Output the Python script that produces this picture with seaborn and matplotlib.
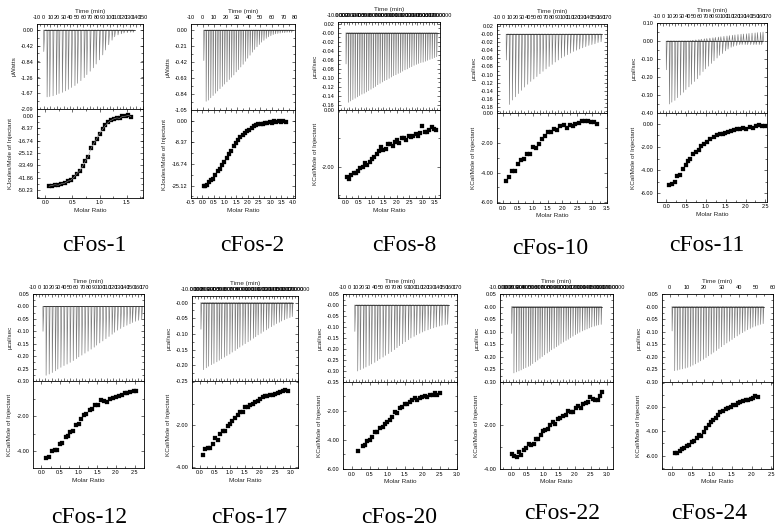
import numpy as np
import pandas as pd
import matplotlib
matplotlib.use("Agg")
import matplotlib.pyplot as plt
from matplotlib.ticker import AutoMinorLocator, FixedLocator, FormatStrFormatter
import seaborn as sns

# ---- ITC data ----
# *_time: injection time (min), *_power: peak of each injection (top panel),
# *_ratio / *_heat: integrated isotherm points (bottom panel)

fos1_time = [0, 5, 9, 14, 19, 23, 28, 33, 37, 42, 47, 51, 56, 61, 65, 70, 75, 79, 84, 89,
             93, 98, 103, 107, 112, 117, 121, 126, 131, 135]
fos1_power = [-0.57, -1.77, -1.76, -1.74, -1.71, -1.68, -1.65, -1.61, -1.57, -1.52, -1.47, -1.41,
              -1.34, -1.26, -1.18, -1.09, -1.00, -0.90, -0.79, -0.66, -0.53, -0.39, -0.27, -0.18,
              -0.13, -0.10, -0.08, -0.07, -0.06, -0.06]
fos1_ratio = [0.07, 0.12, 0.18, 0.24, 0.30, 0.36, 0.42, 0.47, 0.53, 0.58, 0.64, 0.69, 0.74, 0.79,
              0.85, 0.90, 0.95, 1.00, 1.06, 1.11, 1.16, 1.21, 1.27, 1.32, 1.37, 1.42, 1.48, 1.53, 1.58]
fos1_heat = [-47.5, -47.0, -46.5, -46.8, -45.8, -45.4, -44.0, -43.5, -41.5, -39.0, -37.0, -34.0,
             -30.5, -27.5, -21.5, -18.5, -15.5, -12.0, -9.0, -6.5, -4.5, -3.2, -2.0, -1.5, -1.8,
             -0.5, -0.3, 0.2, -0.6]

fos2_time = [1, 3, 5, 7, 9, 11, 13, 15, 17, 19, 21, 23, 25, 27, 29, 31, 33, 35, 37, 39, 41, 43,
             45, 47, 49, 51, 53, 55, 57, 59, 61, 63, 65, 67, 69, 71, 73, 75, 77]
fos2_power = [-0.40, -0.935, -0.92, -0.89, -0.86, -0.83, -0.80, -0.77, -0.74, -0.71, -0.68, -0.65,
              -0.62, -0.59, -0.55, -0.52, -0.485, -0.45, -0.41, -0.37, -0.33, -0.29, -0.255, -0.22,
              -0.19, -0.16, -0.135, -0.11, -0.09, -0.075, -0.06, -0.05, -0.045, -0.04, -0.035,
              -0.035, -0.03, -0.03, -0.03]
fos2_ratio = [0.07, 0.13, 0.20, 0.30, 0.38, 0.48, 0.58, 0.68, 0.78, 0.88, 0.98, 1.08, 1.18, 1.28,
              1.38, 1.48, 1.58, 1.68, 1.78, 1.88, 1.98, 2.08, 2.18, 2.28, 2.38, 2.48, 2.58, 2.68,
              2.78, 2.88, 2.98, 3.08, 3.18, 3.28, 3.38, 3.48, 3.58, 3.68]
fos2_heat = [-25.4, -25.4, -25.0, -23.6, -22.8, -22.6, -21.2, -19.5, -18.6, -17.2, -15.8, -14.3,
             -13.0, -11.6, -10.0, -8.6, -7.4, -6.3, -5.6, -4.9, -4.2, -3.5, -2.8, -2.1, -1.6, -1.5,
             -1.4, -1.3, -1.0, -1.0, -0.7, -0.8, -0.3, -0.6, 0.0, -0.4, -0.2, -0.4]

fos8_time = [4, 8, 12, 16, 20, 24, 28, 32, 36, 40, 44, 48, 52, 56, 60, 64, 68, 72, 76, 80, 84,
             88, 92, 96, 100, 104, 108, 112, 116, 120, 124, 128, 132, 136, 140, 144, 148, 152,
             156, 160, 164]
fos8_power = [-0.069, -0.154, -0.151, -0.148, -0.145, -0.142, -0.139, -0.136, -0.134, -0.131,
              -0.128, -0.125, -0.122, -0.119, -0.115, -0.112, -0.109, -0.106, -0.104, -0.101,
              -0.098, -0.095, -0.093, -0.090, -0.088, -0.085, -0.082, -0.080, -0.077, -0.075,
              -0.072, -0.070, -0.068, -0.066, -0.065, -0.063, -0.061, -0.059, -0.057, -0.055, -0.053]
fos8_ratio = [0.04, 0.13, 0.22, 0.31, 0.40, 0.49, 0.58, 0.67, 0.76, 0.85, 0.94, 1.03, 1.12, 1.21,
              1.30, 1.39, 1.48, 1.57, 1.66, 1.75, 1.84, 1.93, 2.02, 2.11, 2.20, 2.29, 2.38, 2.47,
              2.56, 2.65, 2.74, 2.83, 2.92, 3.01, 3.10, 3.19, 3.28, 3.37, 3.46, 3.55]
fos8_heat = [-2.35, -2.44, -2.29, -2.23, -2.21, -2.14, -2.06, -2.00, -1.86, -1.94, -1.83, -1.74,
             -1.65, -1.56, -1.44, -1.30, -1.42, -1.37, -1.21, -1.19, -1.28, -1.13, -1.07, -1.16,
             -1.00, -0.98, -1.05, -0.93, -0.95, -0.90, -0.86, -0.90, -0.81, -0.57, -0.78, -0.76,
             -0.70, -0.60, -0.66, -0.70]

fos10_time = [5, 10, 15, 20, 25, 30, 35, 40, 45, 50, 55, 60, 65, 70, 75, 80, 85, 90, 95, 100,
              105, 110, 115, 120, 125, 130, 135, 140, 145, 150, 155, 160]
fos10_power = [-0.064, -0.174, -0.163, -0.155, -0.147, -0.139, -0.131, -0.124, -0.117, -0.111,
               -0.105, -0.098, -0.092, -0.086, -0.080, -0.075, -0.069, -0.064, -0.059, -0.055,
               -0.051, -0.047, -0.043, -0.040, -0.037, -0.034, -0.031, -0.028, -0.026, -0.024,
               -0.021, -0.019]
fos10_ratio = [0.10, 0.20, 0.31, 0.41, 0.51, 0.61, 0.71, 0.81, 0.92, 1.02, 1.12, 1.22, 1.32, 1.43,
               1.53, 1.63, 1.73, 1.83, 1.93, 2.04, 2.14, 2.24, 2.34, 2.44, 2.55, 2.65, 2.75, 2.85,
               2.95, 3.06, 3.16]
fos10_heat = [-4.55, -4.33, -3.93, -3.89, -3.40, -3.18, -3.11, -2.73, -2.73, -2.27, -2.33, -2.07,
              -1.71, -1.56, -1.29, -1.29, -1.07, -1.11, -0.89, -0.82, -1.00, -0.78, -0.84, -0.71,
              -0.67, -0.49, -0.49, -0.49, -0.56, -0.56, -0.71]

fos11_time = [5, 10, 14, 19, 23, 28, 33, 37, 42, 46, 51, 56, 60, 65, 69, 74, 79, 83, 88, 92, 97,
              102, 106, 111, 115, 120, 125, 129, 134, 138, 143, 148, 152, 157, 161]
fos11_power = [-0.16, -0.35, -0.34, -0.33, -0.315, -0.30, -0.285, -0.27, -0.255, -0.24, -0.225,
               -0.21, -0.19, -0.17, -0.155, -0.14, -0.125, -0.11, -0.095, -0.08, -0.07, -0.055,
               -0.045, -0.035, -0.03, -0.025, -0.02, -0.02, -0.02, -0.02, -0.02, -0.02, -0.02,
               -0.02, -0.02]
fos11_power_up = [0, 0, 0, 0, 0, 0, 0, 0, 0.002, 0.004, 0.006, 0.008, 0.010, 0.012, 0.014, 0.016,
                  0.018, 0.020, 0.022, 0.024, 0.026, 0.028, 0.030, 0.032, 0.034, 0.036, 0.038,
                  0.039, 0.040, 0.042, 0.044, 0.045, 0.047, 0.048, 0.050]
fos11_ratio = [0.08, 0.15, 0.22, 0.28, 0.36, 0.42, 0.49, 0.55, 0.61, 0.68, 0.75, 0.82, 0.89, 0.96,
               1.03, 1.11, 1.20, 1.28, 1.35, 1.42, 1.49, 1.57, 1.64, 1.72, 1.78, 1.87, 1.93, 2.02,
               2.10, 2.18, 2.26, 2.33, 2.41, 2.48]
fos11_heat = [-5.30, -5.16, -5.00, -4.52, -4.38, -3.94, -3.57, -3.22, -3.07, -2.64, -2.41, -2.26,
              -1.88, -1.74, -1.54, -1.33, -1.10, -0.96, -0.90, -0.87, -0.81, -0.72, -0.61, -0.52,
              -0.46, -0.41, -0.38, -0.41, -0.32, -0.38, -0.17, -0.14, -0.17, -0.17]

fos12_time = [6, 11, 16, 21, 26, 30, 35, 40, 45, 50, 55, 60, 64, 69, 74, 79, 84, 89, 93, 98, 103,
              108, 113, 118, 122, 127, 132, 137, 142, 147, 151, 156, 161, 166]
fos12_power = [-0.10, -0.277, -0.272, -0.266, -0.259, -0.252, -0.245, -0.238, -0.232, -0.225,
               -0.218, -0.210, -0.203, -0.196, -0.188, -0.180, -0.172, -0.164, -0.156, -0.147,
               -0.139, -0.130, -0.121, -0.112, -0.104, -0.096, -0.089, -0.082, -0.076, -0.070,
               -0.065, -0.060, -0.056, -0.052]
fos12_ratio = [0.13, 0.20, 0.30, 0.36, 0.42, 0.49, 0.56, 0.65, 0.72, 0.78, 0.85, 0.92, 1.00, 1.06,
               1.14, 1.21, 1.30, 1.37, 1.45, 1.52, 1.61, 1.69, 1.77, 1.84, 1.93, 2.00, 2.08, 2.15,
               2.23, 2.30, 2.38, 2.47, 2.54]
fos12_heat = [-4.38, -4.34, -4.02, -3.96, -3.92, -3.58, -3.52, -3.20, -3.14, -2.91, -2.86, -2.53,
              -2.44, -2.15, -1.92, -1.90, -1.64, -1.58, -1.39, -1.35, -1.10, -1.16, -1.20, -1.01,
              -0.97, -0.91, -0.86, -0.78, -0.70, -0.67, -0.63, -0.57, -0.55]

fos17_time = [5, 9.5, 14, 18, 23, 27, 32, 36, 40, 45, 49, 54, 58, 63, 67, 71, 76, 80, 85, 89, 94,
              98, 102, 107, 111, 116, 120, 125, 129, 133, 138, 142, 147, 151, 156, 160]
fos17_power = [-0.085, -0.214, -0.208, -0.203, -0.198, -0.194, -0.189, -0.184, -0.179, -0.174,
               -0.169, -0.164, -0.158, -0.153, -0.147, -0.142, -0.136, -0.131, -0.125, -0.120,
               -0.114, -0.109, -0.103, -0.098, -0.092, -0.087, -0.082, -0.077, -0.072, -0.067,
               -0.063, -0.059, -0.055, -0.051, -0.048, -0.045]
fos17_ratio = [0.10, 0.19, 0.28, 0.35, 0.44, 0.52, 0.60, 0.69, 0.76, 0.85, 0.93, 1.02, 1.09, 1.18,
               1.27, 1.35, 1.43, 1.51, 1.60, 1.68, 1.76, 1.85, 1.92, 2.01, 2.09, 2.18, 2.25, 2.34,
               2.42, 2.51, 2.59, 2.67, 2.76, 2.84, 2.92]
fos17_heat = [-3.40, -3.14, -3.09, -3.09, -2.89, -2.63, -2.73, -2.44, -2.27, -2.31, -2.05, -1.97,
              -1.84, -1.66, -1.53, -1.38, -1.38, -1.17, -1.14, -1.06, -1.02, -0.94, -0.88, -0.78,
              -0.70, -0.63, -0.64, -0.59, -0.59, -0.55, -0.52, -0.47, -0.41, -0.36, -0.39]

fos20_time = [8.5, 13, 17, 22, 26, 31, 35, 40, 44, 48, 53, 57, 62, 66, 71, 75, 79, 84, 88, 93, 97,
              102, 106, 111, 115, 119, 124, 128, 133, 137, 142, 146, 151, 155]
fos20_power = [-0.12, -0.300, -0.294, -0.288, -0.282, -0.275, -0.268, -0.261, -0.253, -0.245,
               -0.237, -0.229, -0.221, -0.212, -0.203, -0.194, -0.185, -0.176, -0.167, -0.158,
               -0.150, -0.143, -0.136, -0.129, -0.123, -0.118, -0.113, -0.108, -0.104, -0.100,
               -0.096, -0.093, -0.090, -0.088]
fos20_ratio = [0.17, 0.30, 0.36, 0.44, 0.50, 0.58, 0.65, 0.72, 0.79, 0.87, 0.93, 1.01, 1.08, 1.15,
               1.22, 1.29, 1.36, 1.44, 1.50, 1.57, 1.65, 1.71, 1.79, 1.86, 1.93, 2.00, 2.08, 2.14,
               2.22, 2.30, 2.36, 2.44, 2.50]
fos20_heat = [-4.76, -4.46, -4.34, -4.07, -4.00, -3.84, -3.49, -3.47, -3.15, -3.08, -2.92, -2.74,
              -2.62, -2.39, -2.05, -2.16, -1.82, -1.70, -1.54, -1.54, -1.40, -1.24, -1.13, -1.24,
              -1.13, -1.06, -0.94, -1.01, -0.90, -0.90, -0.74, -0.90, -0.74]

fos22_time = [8.5, 12, 16, 20, 23.5, 27, 31, 35, 38.5, 42, 46, 50, 53.5, 57, 61, 65, 68.5, 72, 76,
              80, 83.5, 87, 91, 95, 98.5, 102, 106, 110, 113.5, 117, 121, 125, 128.5, 132, 136,
              140, 143.5, 147, 151]
fos22_power = [-0.107, -0.264, -0.260, -0.256, -0.252, -0.247, -0.243, -0.238, -0.234, -0.227,
               -0.220, -0.213, -0.206, -0.199, -0.192, -0.185, -0.179, -0.172, -0.166, -0.160,
               -0.154, -0.147, -0.141, -0.135, -0.130, -0.124, -0.118, -0.112, -0.107, -0.102,
               -0.097, -0.093, -0.089, -0.085, -0.081, -0.078, -0.075, -0.073, -0.071]
fos22_ratio = [0.03, 0.10, 0.18, 0.24, 0.32, 0.40, 0.47, 0.55, 0.63, 0.71, 0.77, 0.84, 0.93, 1.00,
               1.07, 1.16, 1.23, 1.32, 1.39, 1.47, 1.55, 1.63, 1.71, 1.79, 1.87, 1.95, 2.03, 2.11,
               2.19, 2.26, 2.34, 2.42, 2.49, 2.57, 2.65, 2.72, 2.79, 2.86]
fos22_heat = [-3.34, -3.42, -3.46, -3.23, -3.38, -3.12, -3.05, -2.85, -2.89, -2.88, -2.62, -2.65,
              -2.46, -2.28, -2.20, -2.18, -2.00, -1.85, -1.92, -1.69, -1.66, -1.57, -1.54, -1.35,
              -1.38, -1.38, -1.20, -1.11, -1.20, -1.00, -0.95, -0.92, -0.69, -0.77, -0.82, -0.85,
              -0.66, -0.46]

fos24_time = [1.3, 2.8, 4.3, 5.8, 7.4, 8.9, 10.4, 11.9, 13.4, 14.9, 16.4, 17.9, 19.5, 21, 22.5, 24,
              25.5, 27, 28.5, 30, 31.5, 33.1, 34.6, 36.1, 37.6, 39.1, 40.6, 42.1, 43.6, 45.2,
              46.7, 48.2, 49.7, 51.2, 52.7, 54.2]
fos24_power = [-0.097, -0.255, -0.253, -0.250, -0.248, -0.245, -0.242, -0.238, -0.233, -0.228,
               -0.222, -0.216, -0.210, -0.203, -0.196, -0.189, -0.182, -0.175, -0.167, -0.160,
               -0.152, -0.145, -0.138, -0.131, -0.124, -0.117, -0.110, -0.104, -0.098, -0.092,
               -0.087, -0.082, -0.078, -0.074, -0.071, -0.068]
fos24_ratio = [0.07, 0.13, 0.19, 0.25, 0.31, 0.38, 0.43, 0.50, 0.56, 0.62, 0.68, 0.74, 0.81, 0.86,
               0.92, 0.97, 1.04, 1.11, 1.17, 1.22, 1.29, 1.36, 1.42, 1.48, 1.54, 1.61, 1.67, 1.72,
               1.79, 1.85, 1.92, 1.98, 2.04, 2.10, 2.16]
fos24_heat = [-5.80, -5.75, -5.61, -5.48, -5.34, -5.18, -5.12, -4.90, -4.77, -4.58, -4.30, -4.36,
              -4.03, -3.71, -3.49, -3.22, -3.08, -2.89, -2.67, -2.40, -2.32, -2.18, -2.07, -1.99,
              -1.85, -1.80, -1.66, -1.58, -1.53, -1.44, -1.39, -1.31, -1.23, -1.14, -1.17]

names = ["cFos-1", "cFos-2", "cFos-8", "cFos-10", "cFos-11",
         "cFos-12", "cFos-17", "cFos-20", "cFos-22", "cFos-24"]

series = [
    (fos1_time, fos1_power, None, fos1_ratio, fos1_heat),
    (fos2_time, fos2_power, None, fos2_ratio, fos2_heat),
    (fos8_time, fos8_power, None, fos8_ratio, fos8_heat),
    (fos10_time, fos10_power, None, fos10_ratio, fos10_heat),
    (fos11_time, fos11_power, fos11_power_up, fos11_ratio, fos11_heat),
    (fos12_time, fos12_power, None, fos12_ratio, fos12_heat),
    (fos17_time, fos17_power, None, fos17_ratio, fos17_heat),
    (fos20_time, fos20_power, None, fos20_ratio, fos20_heat),
    (fos22_time, fos22_power, None, fos22_ratio, fos22_heat),
    (fos24_time, fos24_power, None, fos24_ratio, fos24_heat),
]

# ---- layout: pixel boxes (left, right, top, split, bottom) and axis setup ----
T170 = np.arange(-10, 171, 10)
layout = [
    dict(box=(37, 143, 24, 109, 198), tlim=(-10, 150), tticks=np.arange(-10, 151, 10), tstyle="int",
         ylim=(-2.09, 0.16), yticks=[-2.09, -1.67, -1.26, -0.84, -0.42, 0.0], unit="μWatts",
         rlim=(-0.15, 1.8), rticks=[0, 0.5, 1.0, 1.5], hlim=(-55.4, 4.5),
         hticks=[-50.23, -41.86, -33.49, -25.12, -16.74, -8.37, 0.0], hunit="KJoules/Mole of Injectant",
         fit=True, cap=(94, 251)),
    dict(box=(191, 295, 24, 110, 198), tlim=(-10, 80), tticks=np.arange(-10, 81, 10), tstyle="int",
         ylim=(-1.05, 0.08), yticks=[-1.05, -0.84, -0.63, -0.42, -0.21, 0.0], unit="μWatts",
         rlim=(-0.5, 4.1), rticks=np.arange(-0.5, 4.01, 0.5), hlim=(-29.9, 4.1),
         hticks=[-25.12, -16.74, -8.37, 0.0], hunit="KJoules/Mole of Injectant", fit=False, cap=(252, 251)),
    dict(box=(338, 440, 22, 110, 198), tlim=(-10, 170), tticks=T170, tstyle="garbled",
         ylim=(-0.171, 0.024), yticks=np.arange(-0.16, 0.021, 0.02), unit="μcal/sec",
         rlim=(-0.3, 3.7), rticks=np.arange(0, 3.51, 0.5), hlim=(-3.1, 0.0),
         hticks=[-2.0, 0.0], hunit="KCal/Mole of Injectant", fit=False, cap=(404, 251)),
    dict(box=(497, 607, 24, 113, 203), tlim=(-10, 170), tticks=T170, tstyle="int",
         ylim=(-0.195, 0.025), yticks=np.arange(-0.18, 0.021, 0.02), unit="μcal/sec",
         rlim=(-0.2, 3.5), rticks=np.arange(0, 3.51, 0.5), hlim=(-6.06, 0.02),
         hticks=[-6.0, -4.0, -2.0, 0.0], hunit="KCal/Mole of Injectant", fit=False, cap=(550, 254)),
    dict(box=(657, 767, 23, 113, 202), tlim=(-10, 170), tticks=T170, tstyle="int",
         ylim=(-0.4, 0.1), yticks=[-0.4, -0.3, -0.2, -0.1, 0.0, 0.1], unit="μcal/sec",
         rlim=(-0.23, 2.54), rticks=np.arange(0, 2.51, 0.5), hlim=(-6.75, 0.93),
         hticks=[-6.0, -4.0, -2.0, 0.0], hunit="KCal/Mole of Injectant", fit=False, cap=(707, 251)),
    dict(box=(33, 144, 294, 381, 468), tlim=(-10, 170), tticks=T170, tstyle="int",
         ylim=(-0.30, 0.05), yticks=np.arange(-0.30, 0.051, 0.05), unit="μcal/sec",
         rlim=(-0.22, 2.75), rticks=np.arange(0, 2.51, 0.5), hlim=(-4.97, 0.0),
         hticks=[-4.0, -2.0], hunit="KCal/Mole of Injectant", fit=False, cap=(89, 523)),
    dict(box=(192, 298, 296, 381, 468), tlim=(-10, 170), tticks=T170, tstyle="garbled",
         ylim=(-0.25, 0.021), yticks=np.arange(-0.25, 0.001, 0.05), unit="μcal/sec",
         rlim=(-0.25, 3.26), rticks=np.arange(0, 3.01, 0.5), hlim=(-4.03, 0.06),
         hticks=[-4.0, -2.0], hunit="KCal/Mole of Injectant", fit=False, cap=(249, 523)),
    dict(box=(343, 457, 294, 382, 469), tlim=(-10, 170), tticks=T170, tstyle="int",
         ylim=(-0.35, 0.05), yticks=np.arange(-0.35, 0.051, 0.05), unit="μcal/sec",
         rlim=(-0.26, 3.0), rticks=np.arange(0, 3.01, 0.5), hlim=(-6.02, 0.0),
         hticks=[-6.0, -4.0, -2.0], hunit="KCal/Mole of Injectant", fit=False, cap=(399, 523)),
    dict(box=(500, 613, 294, 382, 469), tlim=(-10, 170), tticks=T170, tstyle="garbled",
         ylim=(-0.30, 0.05), yticks=np.arange(-0.30, 0.051, 0.05), unit="μcal/sec",
         rlim=(-0.35, 3.2), rticks=np.arange(0, 3.01, 0.5), hlim=(-4.02, 0.0),
         hticks=[-4.0, -2.0], hunit="KCal/Mole of Injectant", fit=False, cap=(562, 519)),
    dict(box=(662, 773, 294, 382, 469), tlim=(-4.5, 60), tticks=np.arange(0, 61, 10), tstyle="int",
         ylim=(-0.30, 0.05), yticks=np.arange(-0.30, 0.051, 0.05), unit="μcal/sec",
         rlim=(-0.25, 2.54), rticks=np.arange(0, 2.51, 0.5), hlim=(-7.1, 0.05),
         hticks=[-6.0, -4.0, -2.0], hunit="KCal/Mole of Injectant", fit=False, cap=(709, 519)),
]

sns.set_theme(style="ticks")
plt.rcParams["font.family"] = ["Liberation Sans", "DejaVu Sans"]

W, H = 780, 527
fig = plt.figure(figsize=(W / 100, H / 100), dpi=100)
fig.patch.set_facecolor("white")

TICK_FS = 4.0
LABEL_FS = 4.6


def px_axes(l, r, t, b):
    return fig.add_axes([l / W, 1 - b / H, (r - l) / W, (b - t) / H])


def origin_style(ax):
    ax.set_facecolor("white")
    ax.grid(False)
    for s in ax.spines.values():
        s.set_visible(True)
        s.set_linewidth(0.6)
        s.set_color("black")
    ax.tick_params(which="both", direction="in", top=True, right=True, bottom=True, left=True,
                   width=0.4, colors="black", labelsize=TICK_FS, pad=2.6)
    ax.tick_params(which="major", length=2.2)
    ax.tick_params(which="minor", length=1.2)


def trace(times, down, up):
    gap = times[1] - times[0]
    xs, ys = [], []
    for i, (t, p) in enumerate(zip(times, down)):
        xs += [t, t + 0.05 * gap, t + 0.32 * gap]
        ys += [0, p, 0]
        if up is not None and up[i] > 0:
            xs += [t + 0.5 * gap, t + 0.68 * gap]
            ys += [up[i], 0]
    return pd.DataFrame({"t": xs, "q": ys})


for name, (tm, pw, pw_up, ratio, heat), lay in zip(names, series, layout):
    l, r, t, s, b = lay["box"]

    # raw thermogram
    ax = px_axes(l, r, t, s)
    origin_style(ax)
    sns.lineplot(data=trace(tm, pw, pw_up), x="t", y="q", sort=False, estimator=None,
                 color="#7a7a7a", lw=0.45, ax=ax)
    gap = tm[1] - tm[0]
    sns.lineplot(x=[tm[0], tm[-1] + 0.5 * gap], y=[0, 0], color="#202020", lw=0.55, ax=ax)
    ax.set_xlim(*lay["tlim"])
    ax.set_ylim(*lay["ylim"])
    ax.xaxis.set_major_locator(FixedLocator(lay["tticks"]))
    ax.xaxis.set_minor_locator(AutoMinorLocator(2))
    if lay["tstyle"] == "garbled":
        ax.set_xticklabels([f"{v:.4f}" for v in lay["tticks"]])
    else:
        ax.set_xticklabels([f"{v:g}" for v in lay["tticks"]])
    ax.yaxis.set_major_locator(FixedLocator(lay["yticks"]))
    ax.yaxis.set_minor_locator(AutoMinorLocator(2))
    ax.yaxis.set_major_formatter(FormatStrFormatter("%.2f"))
    ax.tick_params(axis="x", labeltop=True, labelbottom=False, pad=2.6)
    ax.xaxis.set_label_position("top")
    ax.set_xlabel("Time (min)", fontsize=LABEL_FS, labelpad=2)
    ax.set_ylabel(lay["unit"], fontsize=LABEL_FS, labelpad=3)
    top_ax = ax

    # binding isotherm
    ax = px_axes(l, r, s, b)
    origin_style(ax)
    if lay["fit"]:
        sns.lineplot(x=ratio, y=heat, color="#909090", lw=0.4, ax=ax)
    sns.scatterplot(x=ratio, y=heat, marker="s", s=7, color="black", edgecolor="black",
                    linewidth=0.2, ax=ax)
    ax.set_xlim(*lay["rlim"])
    ax.set_ylim(*lay["hlim"])
    ax.xaxis.set_major_locator(FixedLocator(lay["rticks"]))
    ax.xaxis.set_minor_locator(AutoMinorLocator(2))
    ax.xaxis.set_major_formatter(FormatStrFormatter("%.1f"))
    ax.yaxis.set_major_locator(FixedLocator(lay["hticks"]))
    ax.yaxis.set_minor_locator(AutoMinorLocator(2))
    ax.yaxis.set_major_formatter(FormatStrFormatter("%.2f"))
    ax.tick_params(axis="x", pad=1.8)
    ax.set_xlabel("Molar Ratio", fontsize=LABEL_FS, labelpad=2)
    ax.set_ylabel(lay["hunit"], fontsize=LABEL_FS, labelpad=3)
    fig.align_ylabels([top_ax, ax])

    cx, cy = lay["cap"]
    fig.text(cx / W, 1 - cy / H, name, fontsize=17, family="Liberation Serif",
             ha="center", va="baseline", color="black")

fig.savefig("out.png", dpi=100)
